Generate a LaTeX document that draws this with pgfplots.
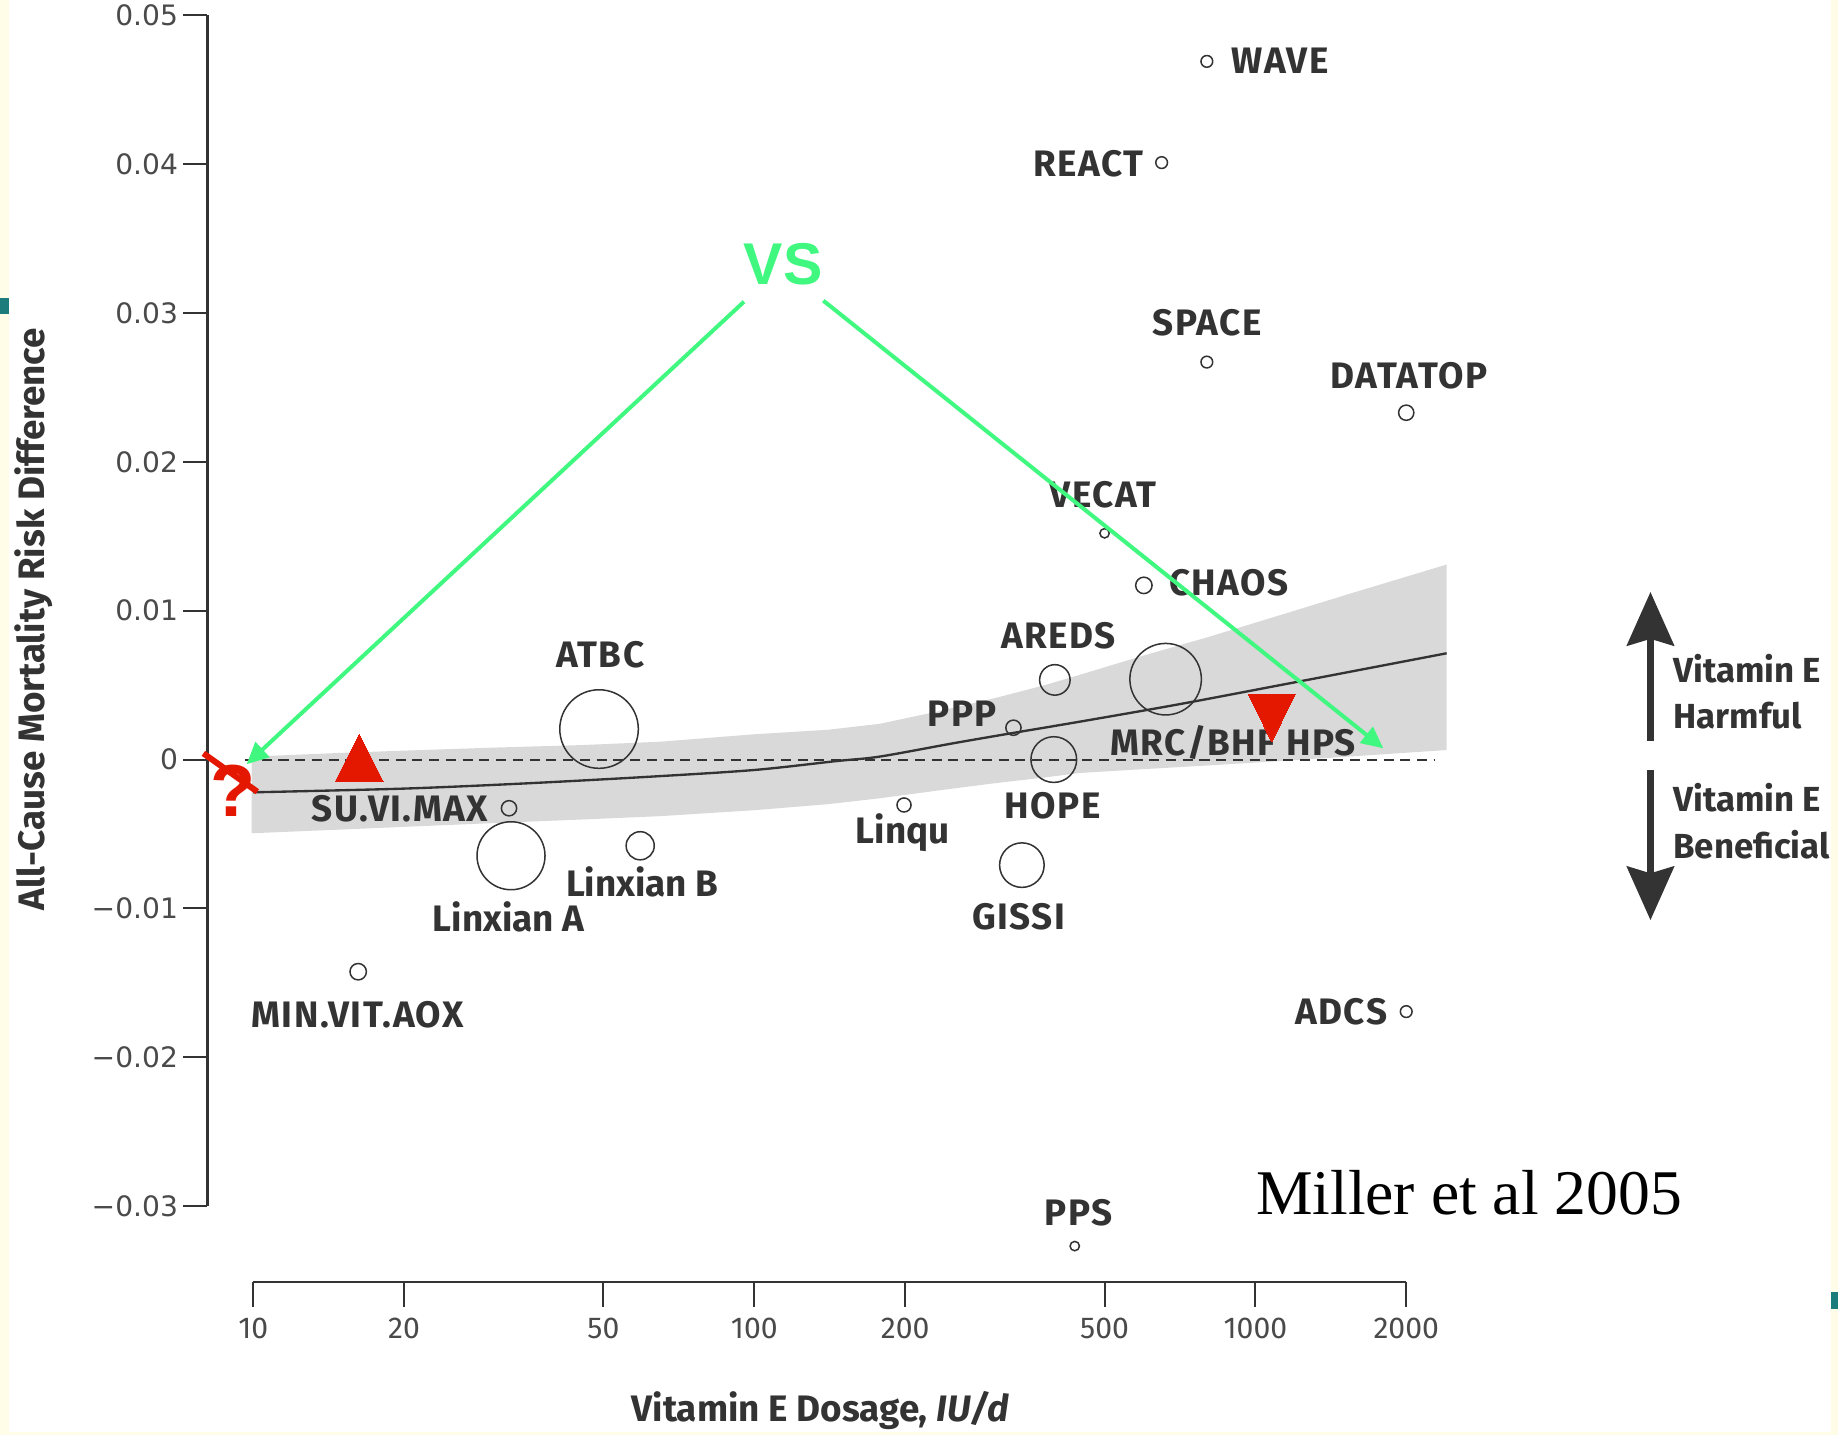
\documentclass[border=0pt]{standalone}
\usepackage{pgfplots}
\pgfplotsset{compat=1.18}
\usepackage{pgfplotstable}
\usetikzlibrary{arrows.meta}
\usepackage{fontspec}
\setmainfont{Fira Sans}
\newfontfamily\serifm{Liberation Serif}
\newfontfamily\arial{Liberation Sans}
\newfontfamily\dejavu{DejaVu Sans}
\newfontfamily\capsfont{Fira Sans}[LetterSpace=4]
\definecolor{ink}{HTML}{333333}
\definecolor{tickc}{HTML}{4A4A4A}
\definecolor{bandc}{HTML}{D9D9D9}
\definecolor{vsgreen}{RGB}{64,248,128}
\definecolor{redc}{RGB}{228,24,0}
\definecolor{cream}{RGB}{255,253,232}
\definecolor{tealc}{RGB}{28,124,124}
\newcommand{\lab}{\bfseries\fontsize{11}{11}\selectfont}
\newcommand{\capl}{\capsfont\bfseries\fontsize{11}{11}\selectfont}

\pgfplotstableread{
x y r
800 0.0469 5
650 0.0401 5
800 0.0267 5
2000 0.0233 6.5
500 0.0152 4
599 0.0117 7
398 0.00535 13
49 0.00205 33.5
329 0.00214 6.5
662 0.0054 30.5
396 0 19.5
32.4 -0.00327 6.5
32.7 -0.00646 29
59.2 -0.00579 12
199 -0.00305 6
342 -0.00709 19
16.2 -0.01425 7
2000 -0.01693 5
436 -0.03268 4
}\bubbles

\tikzset{D/.style={shift={(-61.908pt,382.82pt)}, x=0.35pt, y=-0.35pt}}

\begin{document}
\begin{tikzpicture}
% background
\begin{scope}[D]
\fill[white] (0,0) rectangle (1568,1224);
\fill[cream] (0,0) rectangle (7.7,1224);
\fill[cream] (1562,0) rectangle (1568,1224);
\fill[cream] (0,1222) rectangle (1568,1224);
\fill[tealc] (0,254) rectangle (7.7,268);
\fill[tealc] (1562,1102) rectangle (1568,1117);
\end{scope}

\begin{axis}[
  scale only axis, width=372.48pt, height=378.27pt,
  xmode=log, xmin=8.1, xmax=2500, ymin=-0.0351, ymax=0.05,
  axis lines*=left, axis line style={draw=none},
  clip=false, scaled y ticks=false, scaled x ticks=false,
  xminorticks=false, yminorticks=false,
  xtick={10,20,50,100,200,500,1000,2000},
  xticklabels={10,20,50,100,200,500,1000,2000},
  ytick={-0.03,-0.02,-0.01,0,0.01,0.02,0.03,0.04,0.05},
  yticklabels={−0.03,−0.02,−0.01,0,0.01,0.02,0.03,0.04,0.05},
  tick align=outside, major tick length=7.3pt,
  tick style={draw=ink, line width=0.6pt},
  xticklabel style={font=\fontsize{9}{9}\selectfont, text=tickc},
  yticklabel style={font=\dejavu\fontsize{8.4}{8.4}\selectfont, text=tickc, xshift=2pt},
]
% confidence band
\addplot[fill=bandc, draw=none] coordinates {
 (9.93,0.0002) (15,0.00045) (20,0.0006) (30,0.0008) (45,0.00097) (65,0.0012)
 (100,0.0017) (140,0.0020) (178,0.0024) (230,0.0032) (300,0.0041) (380,0.0050)
 (447,0.0057) (600,0.0070) (800,0.0082) (1120,0.0097) (1600,0.0113) (2408,0.0131)
 (2408,0.00064) (1600,0.00024) (1120,-0.0001) (800,-0.0004) (600,-0.00064)
 (447,-0.0009) (380,-0.0012) (300,-0.0016) (230,-0.0021) (178,-0.0026)
 (140,-0.0030) (100,-0.0034) (65,-0.0038) (45,-0.00403) (30,-0.00427)
 (20,-0.00452) (15,-0.0047) (9.93,-0.00495)} -- cycle;
% zero line
\addplot[ink, line width=0.6pt, dash pattern=on 3pt off 2pt] coordinates {(9.63,0) (2280,0)};
% fitted curve
\addplot[ink, line width=0.7pt, smooth] coordinates {
 (10,-0.0022) (20,-0.00195) (35,-0.0016) (62,-0.00115) (100,-0.0007)
 (146,-0.0001) (178,0.0002) (250,0.0011) (330,0.0018) (447,0.00255)
 (700,0.0037) (1120,0.0050) (2408,0.00714)};
% trials
\addplot[scatter, only marks, mark=o,
  scatter/use mapped color={draw=ink, fill=none},
  visualization depends on={\thisrow{r}*0.35 \as \rad},
  scatter/@pre marker code/.append style={/tikz/mark size=\rad pt},
  mark options={line width=0.45pt}] table[x=x, y=y] {\bubbles};
% axis lines
\draw[ink, line width=0.8pt] (axis cs:8.1,-0.03) -- (axis cs:8.1,0.05);
\draw[ink, line width=0.8pt] (axis cs:10,-0.0351) -- (axis cs:2000,-0.0351);
\end{axis}

% labels
\begin{scope}[D, every node/.style={font=\capl, text=ink, inner sep=0pt, text depth=0pt}]
\node[anchor=west] at (1050,52) {WAVE};
\node[anchor=east] at (976,139) {REACT};
\node at (1030,275) {SPACE};
\node at (1202,320) {DATATOP};
\node at (941,422) {VECAT};
\node[anchor=west] at (997,497) {CHAOS};
\node at (903,542) {AREDS};
\node at (512,558) {ATBC};
\node[anchor=east] at (851,609) {PPP};
\node at (1052,632) {MRC/BHF HPS};
\node at (898,687) {HOPE};
\node[anchor=east] at (417,690) {SU.VI.MAX};
\node[font=\lab] at (434,782) {Linxian A};
\node[font=\lab] at (548,752) {Linxian B};
\node[font=\lab] at (770,707) {Linqu};
\node at (869,782) {GISSI};
\node at (305,865) {MIN.VIT.AOX};
\node[anchor=east] at (1184,863) {ADCS};
\node at (920,1034) {PPS};
% side legend
\begin{scope}[every node/.style={font=\bfseries\fontsize{10.4}{10.4}\selectfont, text=ink, inner sep=0pt, text depth=0pt, anchor=west}]
\node at (1427,570) {Vitamin E};
\node at (1427,610) {Harmful};
\node at (1427,680) {Vitamin E};
\node at (1427,720) {Beneficial};
\end{scope}
% axis titles
\node[font=\lab, rotate=90] at (25,528) {All-Cause Mortality Risk Difference};
\node[font=\lab] at (700,1200) {Vitamin E Dosage, \textit{IU/d}};
\end{scope}

% overlay markers
\begin{axis}[
  scale only axis, width=372.48pt, height=378.27pt,
  xmode=log, xmin=8.1, xmax=2500, ymin=-0.0351, ymax=0.05,
  hide axis, clip=false, scaled y ticks=false]
\addplot[redc, only marks, mark=triangle*, mark size=8.28pt,
  mark options={draw=redc, fill=redc, line width=0pt, yscale=1.142}] coordinates {(16.28,-0.00042)};
\addplot[redc, only marks, mark=triangle*, mark size=8.06pt,
  mark options={draw=redc, fill=redc, line width=0pt, rotate=180, yscale=1.171}] coordinates {(1078,0.00332)};
\end{axis}

% annotations
\begin{scope}[D]
\draw[ink, line width=2.1pt, -{Stealth[length=16pt, width=14pt, inset=2pt]}] (1408,632) -- (1408,505);
\draw[ink, line width=2.1pt, -{Stealth[length=16pt, width=14pt, inset=2pt]}] (1408,657) -- (1408,785);
\draw[redc, line width=1.8pt] (173.5,642.7) -- (219.5,675.4);
\node[redc, font=\arial\bfseries\fontsize{22}{22}\selectfont, inner sep=0pt] at (199,675) {?};
\node[vsgreen, font=\arial\bfseries\fontsize{17.6}{17.6}\selectfont, inner sep=0pt] at (668,225) {VS};
\draw[vsgreen, line width=1.2pt, -{Triangle[length=6.5pt, width=6pt]}] (634.7,257.4) -- (210.4,652);
\draw[vsgreen, line width=1.2pt, -{Triangle[length=6.5pt, width=6pt]}] (702.4,256.5) -- (1180.1,638.4);
\node[anchor=base west, font=\serifm\fontsize{19}{19}\selectfont, inner sep=0pt] at (1071,1036) {Miller et al 2005};
\end{scope}

\pgfresetboundingbox
\path[D] (0,0) rectangle (1568,1224);
\end{tikzpicture}
\end{document}
